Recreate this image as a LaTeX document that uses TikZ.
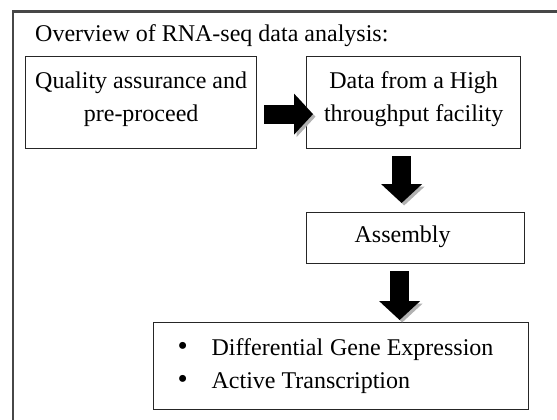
\documentclass[tikz,border=0pt]{standalone}
\usepackage{fontspec}
\setmainfont{Liberation Serif}
\usetikzlibrary{arrows.meta}
\newcommand{\bigbullet}{{\fontsize{29}{33}\selectfont\textbullet}}
\begin{document}
\begin{tikzpicture}[x=1pt,y=-1pt,
  every node/.style={font=\fontsize{24}{33}\selectfont, inner sep=0pt},
  stepbox/.style={draw=black!85, line width=1.3pt, fill=white},
  bigarrow/.style={line width=19pt, -{Triangle[length=19pt,width=40pt]}, draw=black,
     preaction={draw=black!30, transform canvas={shift={(2.5pt,-2.5pt)}}}},
  frame/.style={draw=black!72, line width=2.2pt}]
\clip (0,0) rectangle (557,420);
\fill[white] (0,0) rectangle (557,420);
\draw[frame] (13,440) -- (13,11.5) -- (580,11.5);

\node[anchor=base west] (title) at (35,42) {Overview of RNA-seq data analysis:};

\node[stepbox, anchor=north west] (q) at (25,56)
  {\parbox[c][92pt][t]{231pt}{\centering\rule{0pt}{32pt}Quality assurance and\\pre-proceed}};
\node[stepbox, anchor=north west] (d) at (306,56)
  {\parbox[c][92pt][t]{214pt}{\centering\rule{0pt}{32pt}Data from a High\\throughput facility}};
\node[stepbox, anchor=north west] (a) at (306,212)
  {\parbox[c][51pt][t]{218pt}{\raggedright\rule{0pt}{30pt}\hspace*{48pt}Assembly}};
\node[stepbox, anchor=north west] (b) at (153,322)
  {\parbox[c][87pt][t]{375pt}{\raggedright\rule{0pt}{33pt}\hspace*{24pt}\makebox[34pt][l]{\bigbullet}Differential\hspace{7pt}Gene Expression\\
   \hspace*{24pt}\makebox[34pt][l]{\bigbullet}Active Transcription}};

\coordinate (q2) at ([xshift=7pt,yshift=-11.5pt]q.east);
\coordinate (d3) at ([xshift=7pt,yshift=-11.5pt]d.west);
\draw[bigarrow] (q2) -- (d3);

\coordinate (d2) at ([xshift=-12pt,yshift=-7pt]d.south);
\draw[bigarrow, shorten >=9pt] (d2) -- (d2 |- a.north);

\coordinate (a2) at ([xshift=-16pt,yshift=-7pt]a.south);
\draw[bigarrow, shorten >=2pt] (a2) -- (a2 |- b.north);
\end{tikzpicture}
\end{document}
